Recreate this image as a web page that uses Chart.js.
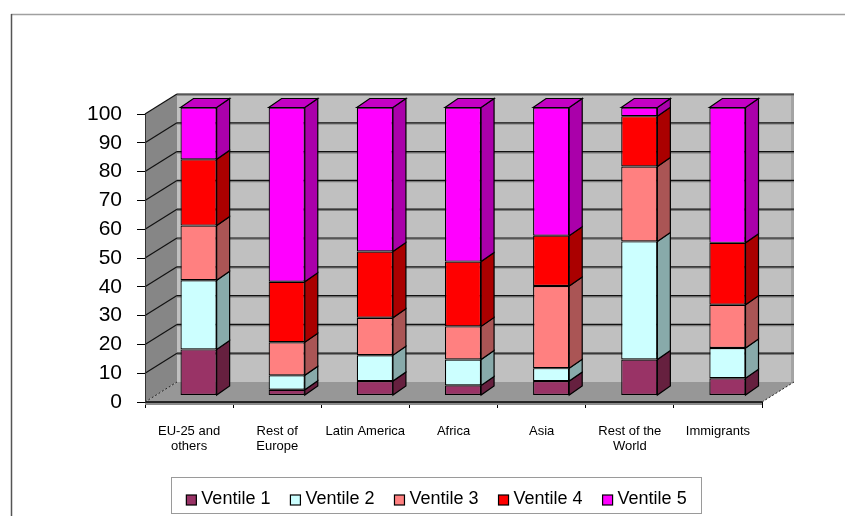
<!DOCTYPE html>
<html>
<head>
<meta charset="utf-8">
<script src="https://cdn.jsdelivr.net/npm/chart.js@4.4.1/dist/chart.umd.min.js"></script>
<style>
  html, body { margin: 0; padding: 0; background: #fff; }
  #wrap { width: 845px; height: 516px; }
</style>
</head>
<body>
<div id="wrap"><canvas id="chart" width="845" height="516"></canvas></div>
<script>
const CATEGORIES = [
  ['EU-25 and', 'others'],
  ['Rest of', 'Europe'],
  'Latin America',
  'Africa',
  'Asia',
  ['Rest of the', 'World'],
  'Immigrants',
];

const VENTILE_1 = [16, 2, 5, 3.5, 5, 12.5, 6];
const VENTILE_2 = [24, 5, 9, 9, 4.5, 41, 10.5];
const VENTILE_3 = [19, 11.5, 13, 11.5, 28.5, 26, 15];
const VENTILE_4 = [23, 21, 23, 22.5, 17.5, 17.5, 21.5];
const VENTILE_5 = [18, 60.5, 50, 53.5, 44.5, 3, 47];

const SERIES_NAMES = ['Ventile 1', 'Ventile 2', 'Ventile 3', 'Ventile 4', 'Ventile 5'];
const Y_TICKS = [0, 10, 20, 30, 40, 50, 60, 70, 80, 90, 100];

const FRONT_COLORS = ['#993366', '#ccffff', '#ff8080', '#ff0000', '#ff00ff'];
const SIDE_COLORS  = ['#66203f', '#88aaaa', '#aa5555', '#aa0000', '#aa00aa'];
const TOP_COLOR = '#c400c4';

const FONT = "Arial, 'Liberation Sans', sans-serif";
const DEPTH = { x: 32, y: -20 };      // walls / floor depth
const BAR_SHIFT = { x: 9.5, y: -6.5 }; // bars sit a bit inside the floor
const BAR_DEPTH = { x: 13, y: -9 };

function poly(ctx, pts, fill, stroke, lw) {
  ctx.beginPath();
  ctx.moveTo(pts[0][0], pts[0][1]);
  for (let i = 1; i < pts.length; i++) ctx.lineTo(pts[i][0], pts[i][1]);
  ctx.closePath();
  if (fill) { ctx.fillStyle = fill; ctx.fill(); }
  if (stroke) { ctx.strokeStyle = stroke; ctx.lineWidth = lw || 1; ctx.stroke(); }
}

const walls3d = {
  id: 'walls3d',
  beforeDraw(chart) {
    const ctx = chart.ctx;
    ctx.save();
    ctx.fillStyle = '#fff';
    ctx.fillRect(0, 0, chart.width, chart.height);
    ctx.lineWidth = 1.5;
    ctx.strokeStyle = '#a0a0a0';
    ctx.beginPath(); ctx.moveTo(11, 14.5); ctx.lineTo(chart.width, 14.5); ctx.stroke();
    ctx.strokeStyle = '#555';
    ctx.beginPath(); ctx.moveTo(11.5, 14); ctx.lineTo(11.5, chart.height); ctx.stroke();
    ctx.restore();
  },
  beforeDatasetsDraw(chart) {
    const { ctx, chartArea: a, scales: { y } } = chart;
    const yb = y.getPixelForValue(0), yt = y.getPixelForValue(100);
    const dx = DEPTH.x, dy = DEPTH.y;
    ctx.save();
    // back wall
    ctx.fillStyle = '#c0c0c0';
    ctx.fillRect(a.left + dx, yt + dy, a.right - a.left, yb - yt);
    ctx.fillStyle = '#a4a4a4';
    ctx.fillRect(a.right + dx - 3, yt + dy, 3, yb - yt);
    // left wall and floor
    poly(ctx, [[a.left, yb], [a.left, yt], [a.left + dx, yt + dy], [a.left + dx, yb + dy]], '#868686');
    poly(ctx, [[a.left, yb], [a.right, yb], [a.right + dx, yb + dy], [a.left + dx, yb + dy]], '#979797');
    // gridlines on back wall and left wall
    Y_TICKS.forEach(v => {
      const py = y.getPixelForValue(v);
      if (v > 0) {
        ctx.strokeStyle = '#7a7a7a'; ctx.lineWidth = 1.2;
        ctx.beginPath(); ctx.moveTo(a.left + dx, py + dy + 1.2); ctx.lineTo(a.right + dx, py + dy + 1.2); ctx.stroke();
        ctx.strokeStyle = '#111'; ctx.lineWidth = 1.2;
        ctx.beginPath(); ctx.moveTo(a.left + dx, py + dy); ctx.lineTo(a.right + dx, py + dy); ctx.stroke();
        ctx.beginPath(); ctx.moveTo(a.left, py); ctx.lineTo(a.left + dx, py + dy); ctx.stroke();
      }
    });
    // dotted floor edges
    ctx.setLineDash([2, 2]);
    ctx.strokeStyle = '#222'; ctx.lineWidth = 1;
    ctx.beginPath(); ctx.moveTo(a.left, yb); ctx.lineTo(a.left + dx, yb + dy); ctx.stroke();
    ctx.beginPath(); ctx.moveTo(a.right, yb); ctx.lineTo(a.right + dx, yb + dy); ctx.stroke();
    ctx.setLineDash([]);
    // front edge of floor
    ctx.fillStyle = '#8a8a8a';
    ctx.fillRect(a.left, yb, a.right - a.left, 3);
    ctx.strokeStyle = '#000'; ctx.lineWidth = 1.5;
    ctx.beginPath(); ctx.moveTo(a.left, yb); ctx.lineTo(a.right, yb); ctx.stroke();
    ctx.strokeStyle = '#333'; ctx.lineWidth = 1;
    ctx.beginPath(); ctx.moveTo(a.left + 0.5, yb); ctx.lineTo(a.left + 0.5, yt); ctx.stroke();
    ctx.restore();

    ctx.save();
    ctx.translate(BAR_SHIFT.x, BAR_SHIFT.y);
  },
  afterDatasetsDraw(chart) {
    const ctx = chart.ctx;
    const n = chart.data.datasets.length;
    const bx = BAR_DEPTH.x, by = BAR_DEPTH.y;
    chart.data.datasets.forEach((ds, di) => {
      const meta = chart.getDatasetMeta(di);
      meta.data.forEach(bar => {
        const { x, y, base, width } = bar.getProps(['x', 'y', 'base', 'width'], true);
        const l = x - width / 2, r = x + width / 2;
        poly(ctx, [[r, y], [r + bx, y + by], [r + bx, base + by], [r, base]], SIDE_COLORS[di], '#000', 1.2);
        if (di === n - 1) {
          poly(ctx, [[l, y], [l + bx, y + by], [r + bx, y + by], [r, y]], TOP_COLOR, '#000', 1.2);
        }
      });
    });
    ctx.restore();
  },
  afterDraw(chart) {
    const ctx = chart.ctx;
    ctx.save();
    ctx.font = '18px ' + FONT;
    ctx.textBaseline = 'middle';
    const marker = 10, gap = 5, itemGap = 20;
    const widths = SERIES_NAMES.map(s => ctx.measureText(s).width);
    const total = widths.reduce((s, w) => s + marker + gap + w, 0) + itemGap * (SERIES_NAMES.length - 1);
    const cx = 436.5, cy = 499;
    let x = cx - total / 2;
    ctx.strokeStyle = '#9a9a9a'; ctx.lineWidth = 1;
    ctx.strokeRect(Math.round(x - 15) + 0.5, 477.5, Math.round(total + 30), 36);
    SERIES_NAMES.forEach((name, i) => {
      ctx.fillStyle = FRONT_COLORS[i];
      ctx.fillRect(x, cy - marker / 2 + 1, marker, marker);
      ctx.strokeStyle = '#000'; ctx.lineWidth = 1.2;
      ctx.strokeRect(x, cy - marker / 2 + 1, marker, marker);
      ctx.fillStyle = '#000';
      ctx.fillText(name, x + marker + gap, cy);
      x += marker + gap + widths[i] + itemGap;
    });
    ctx.restore();
  }
};

const SERIES = [VENTILE_1, VENTILE_2, VENTILE_3, VENTILE_4, VENTILE_5];

new Chart(document.getElementById('chart'), {
  type: 'bar',
  data: {
    labels: CATEGORIES,
    datasets: SERIES.map((values, i) => ({
      label: SERIES_NAMES[i],
      data: values,
      backgroundColor: FRONT_COLORS[i],
      borderColor: '#000',
      borderWidth: 1.2,
      borderSkipped: false,
      barPercentage: 0.41,
      categoryPercentage: 1,
      clip: false,
    })),
  },
  options: {
    responsive: false,
    animation: false,
    events: [],
    layout: { padding: { top: 114, right: 83, bottom: 0, left: 0 } },
    plugins: {
      legend: { display: false },
      tooltip: { enabled: false },
    },
    scales: {
      x: {
        stacked: true,
        afterFit: s => { s.height = 114; },
        border: { display: false },
        grid: { drawOnChartArea: false, drawTicks: true, tickLength: 6, tickColor: '#000', offset: true },
        ticks: {
          color: '#000',
          font: { family: FONT, size: 13, lineHeight: 1.15 },
          padding: 16,
          maxRotation: 0,
          autoSkip: false,
        },
      },
      y: {
        stacked: true,
        min: 0,
        max: 100,
        afterFit: s => { s.width = 145; },
        border: { display: false },
        grid: { drawOnChartArea: false, drawTicks: true, tickLength: 8, tickColor: '#000' },
        ticks: {
          stepSize: 10,
          color: '#000',
          padding: 15,
          font: { family: FONT, size: 21 },
        },
      },
    },
  },
  plugins: [walls3d],
});
</script>
</body>
</html>
